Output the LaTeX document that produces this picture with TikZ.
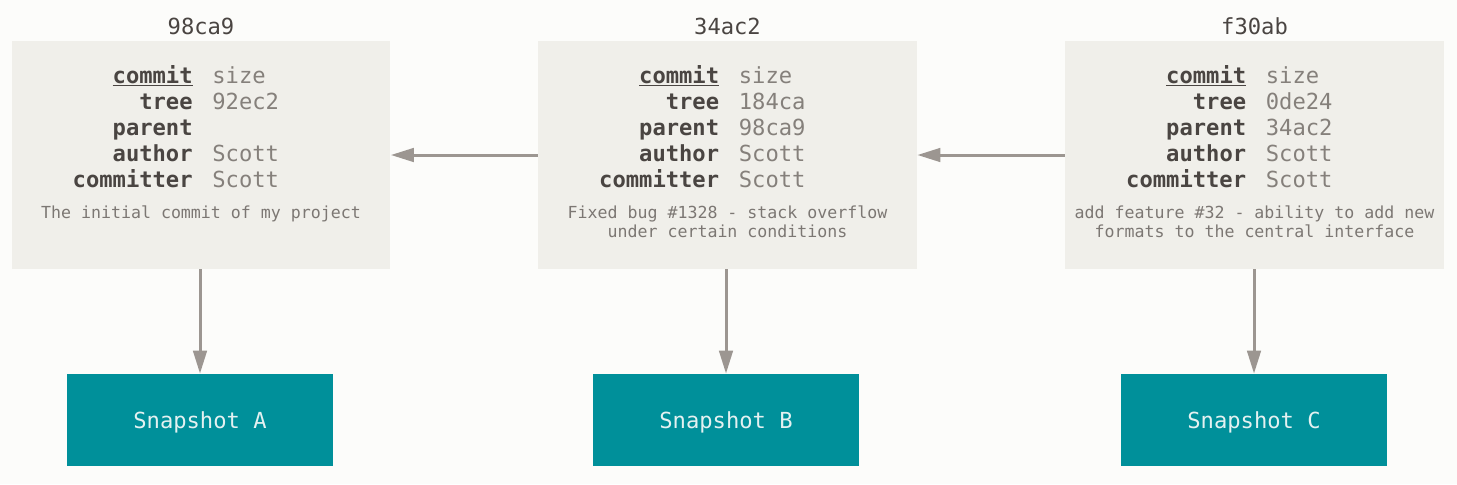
\documentclass[tikz,border=0pt]{standalone}
\usepackage{fontspec}
\setmonofont{DejaVu Sans Mono}
\usetikzlibrary{arrows.meta}
\definecolor{pagebg}{HTML}{FCFCFA}
\definecolor{boxgray}{HTML}{F0EFEA}
\definecolor{keygray}{HTML}{4A4542}
\definecolor{valgray}{HTML}{85807B}
\definecolor{msggray}{HTML}{7C7773}
\definecolor{linkgray}{HTML}{9C9691}
\definecolor{snapteal}{HTML}{00909A}
\definecolor{snaptext}{HTML}{E4F1F1}
\tikzset{
  commitbox/.style={fill=boxgray, inner sep=0pt, minimum width=7.58cm, minimum height=4.56cm},
  snapbox/.style={fill=snapteal, inner sep=0pt, minimum width=5.32cm, minimum height=1.84cm,
    text depth=0pt, text=snaptext, font=\ttfamily\fontsize{12.6}{14}\selectfont},
  hashlabel/.style={anchor=base, inner sep=0pt, text=keygray, font=\ttfamily\fontsize{12.6}{14}\selectfont},
  fieldkey/.style={anchor=base east, inner sep=0pt, text=keygray, font=\ttfamily\bfseries\fontsize{12.6}{14}\selectfont},
  fieldval/.style={anchor=base west, inner sep=0pt, text=valgray, font=\ttfamily\fontsize{12.6}{14}\selectfont},
  commitmsg/.style={anchor=north, inner sep=0pt, align=center, text=msggray, font=\ttfamily\fontsize{9.45}{10.8}\selectfont},
  parentarrow/.style={draw=linkgray, line width=0.06cm, -{Triangle[length=0.46cm, width=0.27cm]}},
  treearrow/.style={parentarrow}
}
% rows of one commit: centre x, tree, parent
\newcommand{\commitfields}[3]{%
  \foreach \key/\val [count=\row from 0] in {{\underline{commit}}/size, tree/#2, parent/#3, author/Scott, committer/Scott}
  {
    \node[fieldkey] at (#1-8, 83+26*\row) {\key};
    \node[fieldval] at (#1+11, 83+26*\row) {\val};
  }%
}
\begin{document}
\begin{tikzpicture}[x=0.02cm, y=-0.02cm]
  % Background
  \fill[pagebg] (0,0) rectangle (1457,484);
  % Commits
  \node[commitbox] (commitA) at (201,155) {};
  \node[commitbox] (commitB) at (727.5,155) {};
  \node[commitbox] (commitC) at (1254.5,155) {};
  % Hashes
  \node[hashlabel] (hashA) at (201,34.5) {98ca9};
  \node[hashlabel] (hashB) at (727.5,34.5) {34ac2};
  \node[hashlabel] (hashC) at (1254.5,34.5) {f30ab};
  % Fields
  \commitfields{201}{92ec2}{}
  \commitfields{727.5}{184ca}{98ca9}
  \commitfields{1254.5}{0de24}{34ac2}
  % Messages
  \node[commitmsg] (msgA) at (201,205) {The initial commit of my project};
  \node[commitmsg] (msgB) at (727.5,205) {Fixed bug \#1328 - stack overflow\\under certain conditions};
  \node[commitmsg] (msgC) at (1254.5,205) {add feature \#32 - ability to add new\\formats to the central interface};
  % Snapshots
  \node[snapbox] (snapA) at (200,420) {Snapshot A};
  \node[snapbox] (snapB) at (726,420) {Snapshot B};
  \node[snapbox] (snapC) at (1254,420) {Snapshot C};
  % Links
  \draw[parentarrow] (commitB) -- (commitA);
  \draw[parentarrow] (commitC) -- (commitB);
  \draw[treearrow] (commitA.south -| snapA) -- (snapA);
  \draw[treearrow] (commitB.south -| snapB) -- (snapB);
  \draw[treearrow] (commitC.south -| snapC) -- (snapC);
\end{tikzpicture}
\end{document}
